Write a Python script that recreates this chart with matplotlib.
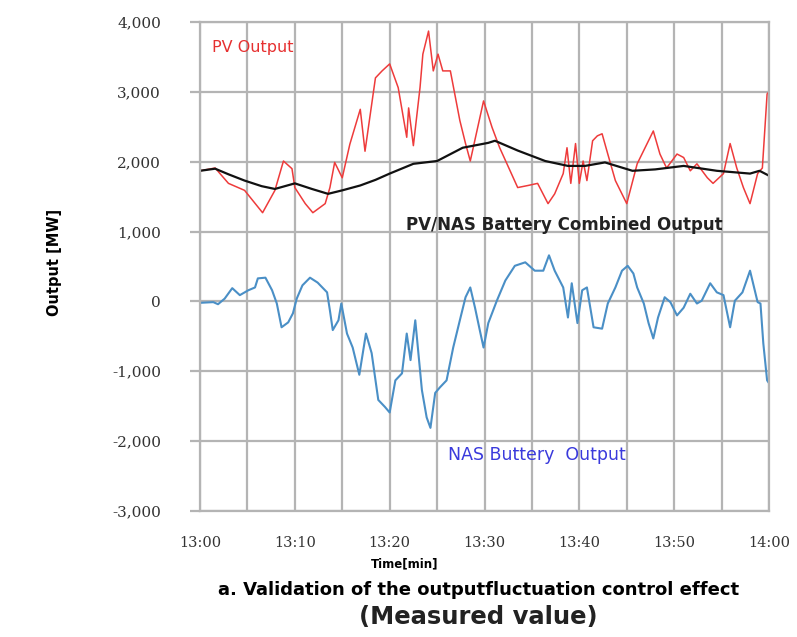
import matplotlib
matplotlib.use("Agg")
import matplotlib.pyplot as plt
from matplotlib.ticker import FixedLocator, MultipleLocator

# ---- data (minutes after 13:00, MW) ----
pv_t = [0, 1.6, 3, 4.7, 6.6, 7.9, 8.8, 9.7, 10, 11.1, 11.9, 13.2, 13.7, 14.2, 15, 15.8, 16.9, 17.4,
        18.5, 19.2, 20, 20.9, 21.8, 22, 22.5, 23.2, 23.5, 24.1, 24.6, 25.1, 25.6, 26.4, 27.4, 28, 28.5,
        29.2, 29.9, 30.8, 31.6, 32.7, 33.5, 34.6, 35.6, 36.7, 37.4, 38.3, 38.7, 39.1, 39.6, 40.0, 40.4,
        40.8, 41.4, 41.9, 42.4, 43, 43.8, 45, 46.1, 47.8, 48.5, 49.2, 50.3, 51, 51.7, 52.4, 53.5, 54.1,
        55.2, 55.9, 56.6, 57.3, 58, 58.8, 59.3, 59.8, 60]
pv_v = [1870, 1910, 1690, 1590, 1270, 1590, 2010, 1900, 1630, 1400, 1270, 1400, 1630, 1990, 1770, 2250,
        2750, 2150, 3200, 3300, 3400, 3060, 2350, 2770, 2230, 3060, 3540, 3870, 3300, 3540, 3300, 3300,
        2590, 2260, 2010, 2440, 2870, 2490, 2200, 1870, 1630, 1660, 1690, 1400, 1540, 1830, 2200, 1690,
        2260, 1690, 2010, 1730, 2300, 2370, 2400, 2110, 1730, 1400, 1970, 2440, 2110, 1910, 2110, 2060,
        1870, 1970, 1770, 1690, 1830, 2260, 1910, 1630, 1400, 1830, 1910, 2970, 3000]

comb_t = [0, 1.6, 3, 4.7, 6.5, 7.9, 10, 11.8, 13.5, 15, 16.9, 18.5, 20, 22.5, 25, 27.7, 30.4, 31.1,
          33.5, 36.4, 38.8, 40.6, 42.7, 45.6, 48, 51, 54.5, 58, 59, 60]
comb_v = [1870, 1900, 1820, 1730, 1650, 1610, 1690, 1610, 1540, 1590, 1660, 1740, 1830, 1970, 2010,
          2200, 2270, 2300, 2160, 2010, 1940, 1940, 1990, 1870, 1890, 1940, 1870, 1830, 1870, 1800]

nas_t = [0, 1.4, 1.9, 2.6, 3.4, 4.2, 5.1, 5.8, 6.1, 6.9, 7.6, 8.1, 8.6, 9.3, 9.8, 10.2, 10.8, 11.6,
         12.4, 13.4, 13.7, 14, 14.6, 14.9, 15.5, 16.1, 16.8, 17.5, 18.1, 18.8, 19.5, 20, 20.6, 21.3,
         21.8, 22.2, 22.7, 23.4, 23.9, 24.3, 24.8, 25.3, 26, 26.7, 27.4, 28, 28.5, 29, 29.5, 29.9, 30.4,
         31.3, 32.2, 33.2, 34.3, 35.3, 36.2, 36.8, 37.4, 38.3, 38.8, 39.2, 39.8, 40.3, 40.8, 41.5, 42.4,
         43, 43.8, 44.5, 45.1, 45.7, 46.1, 46.8, 47.3, 47.8, 48.3, 49, 49.6, 50.3, 51, 51.7, 52.4, 52.9,
         53.8, 54.5, 55.2, 55.9, 56.4, 57.2, 58, 58.8, 59.1, 59.4, 59.8, 60]
nas_v = [-20, -10, -40, 40, 190, 90, 160, 200, 330, 340, 160, -30, -370, -300, -170, 40, 230, 340,
         270, 130, -130, -410, -270, -30, -460, -660, -1050, -460, -740, -1410, -1510, -1590, -1130,
         -1030, -460, -840, -270, -1270, -1660, -1810, -1310, -1230, -1130, -660, -270, 60, 200, -90,
         -410, -660, -310, 10, 300, 510, 560, 440, 440, 660, 440, 200, -230, 260, -310, 160, 200, -370,
         -390, -30, 200, 440, 510, 400, 200, -30, -310, -530, -230, 60, -10, -200, -90, 110, -30, 10,
         260, 130, 90, -370, 10, 130, 440, -10, -30, -600, -1130, -1170]

x_ticks = [0, 10, 20, 30, 40, 50, 60]
x_labels = ["13:00", "13:10", "13:20", "13:30", "13:40", "13:50", "14:00"]
y_ticks = [-3000, -2000, -1000, 0, 1000, 2000, 3000, 4000]
y_labels = ["-3,000", "-2,000", "-1,000", "0", "1,000", "2,000", "3,000", "4,000"]

# ---- figure ----
W, H = 797, 637
fig = plt.figure(figsize=(W / 100, H / 100), dpi=100)
ax = fig.add_axes([200 / W, 1 - 511 / H, (769 - 200) / W, (511 - 22) / H])

grid_c = "#b4b4b4"
ax.set_xlim(0, 60)
ax.set_ylim(-3000, 4000)
ax.xaxis.set_major_locator(FixedLocator(x_ticks))
ax.xaxis.set_minor_locator(MultipleLocator(5))
ax.yaxis.set_major_locator(FixedLocator(y_ticks))
ax.grid(True, which="both", axis="x", color=grid_c, lw=1.6)
ax.grid(True, which="major", axis="y", color=grid_c, lw=1.6)
ax.set_axisbelow(True)
for s in ax.spines.values():
    s.set_color(grid_c)
    s.set_linewidth(1.6)

ax.plot(pv_t, pv_v, color="#ee3b3b", lw=1.1)
ax.plot(nas_t, nas_v, color="#4a8fc6", lw=1.5)
ax.plot(comb_t, comb_v, color="#111111", lw=1.6)

ax.set_xticks(x_ticks)
ax.set_xticklabels(x_labels, family="DejaVu Serif", fontsize=10.5, color="#333333")
ax.set_yticks(y_ticks)
ax.set_yticklabels(y_labels, family="DejaVu Serif", fontsize=11, color="#333333")
ax.tick_params(axis="y", which="major", length=7, color=grid_c, width=1.6, pad=21)
ax.tick_params(axis="x", which="both", length=0, pad=18)

ax.text(1.3, 3630, "PV Output", color="#e63030", fontsize=11.5, ha="left", va="center")
ax.text(21.7, 1090, "PV/NAS Battery Combined Output", color="#222222", fontsize=12,
        fontweight="bold", ha="left", va="center")
ax.text(26.1, -2200, "NAS Buttery  Output", color="#3a3adc", fontsize=12.5, ha="left", va="center")

fig.text(55 / W, 1 - 262 / H, "Output [MW]", rotation=90, fontsize=10.5, fontweight="bold",
         ha="center", va="center")
fig.text(405 / W, 1 - 564 / H, "Time[min]", fontsize=8.5, fontweight="bold", ha="center", va="center")
fig.text(479 / W, 1 - 590 / H, "a. Validation of the outputfluctuation control effect",
         fontsize=13, fontweight="bold", ha="center", va="center")
fig.text(478 / W, 1 - 617 / H, "(Measured value)", fontsize=17.5, fontweight="bold",
         ha="center", va="center", color="#222222")

fig.savefig("out.png", dpi=100)
